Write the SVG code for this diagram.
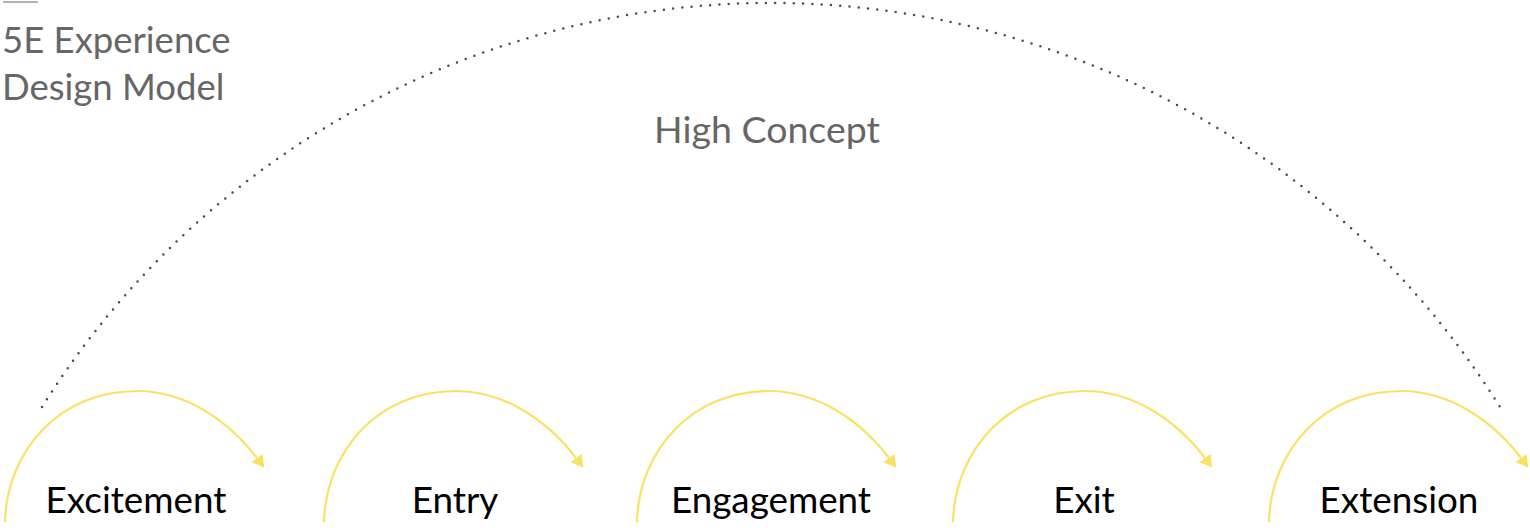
<svg xmlns="http://www.w3.org/2000/svg" width="1530" height="530" viewBox="0 0 1530 530">
<defs>
<style>
.title{font-family:Lato,"Open Sans","Liberation Sans",sans-serif;font-size:36.5px;fill:#666666;}
.hc{font-family:Lato,"Open Sans","Liberation Sans",sans-serif;font-size:37.5px;fill:#666666;text-anchor:middle;}
.label{font-family:Lato,"Open Sans","Liberation Sans",sans-serif;font-size:36.8px;fill:#000000;text-anchor:middle;}
.step{fill:none;stroke:#F8E264;stroke-width:2.2;marker-end:url(#arrow);}
.dots{fill:none;stroke:#4a4a4a;stroke-width:2.5;stroke-linecap:round;stroke-dasharray:0 9.3;}
</style>
<marker id="arrow" viewBox="0 0 12 14" refX="0" refY="7" markerWidth="12" markerHeight="14" markerUnits="userSpaceOnUse" orient="auto">
<path d="M0,0 L12,7 L0,14 z" fill="#F8E264"/>
</marker>
</defs>
<rect width="1530" height="530" fill="#ffffff"/>
<g id="title">
<line x1="3" y1="2" x2="38" y2="2" stroke="#666666" stroke-width="1.2"/>
<text class="title" x="2" y="53">5E Experience</text>
<text class="title" x="2" y="100">Design Model</text>
</g>
<g id="connectors">
<path id="high-concept-arc" class="dots" d="M42,407 A859.7,859.7 0 0 1 1500,407"/>
<path class="step" d="M5,522 C7,450 60,391 137,391 C185,391 228,420 257,458"/>
<path class="step" d="M324,522 C326,450 379,391 456,391 C504,391 547,420 576,458"/>
<path class="step" d="M637,522 C639,450 692,391 769,391 C817,391 860,420 889,458"/>
<path class="step" d="M953,522 C955,450 1008,391 1085,391 C1133,391 1176,420 1205,458"/>
<path class="step" d="M1269,522 C1271,450 1324,391 1401,391 C1449,391 1492,420 1521,458"/>
</g>
<g id="high-concept"><text class="hc" x="767" y="143">High Concept</text></g>
<g id="excitement"><text class="label" x="136" y="513">Excitement</text></g>
<g id="entry"><text class="label" x="455" y="513">Entry</text></g>
<g id="engagement"><text class="label" x="771" y="513">Engagement</text></g>
<g id="exit"><text class="label" x="1084" y="513">Exit</text></g>
<g id="extension"><text class="label" x="1399" y="513">Extension</text></g>
</svg>
